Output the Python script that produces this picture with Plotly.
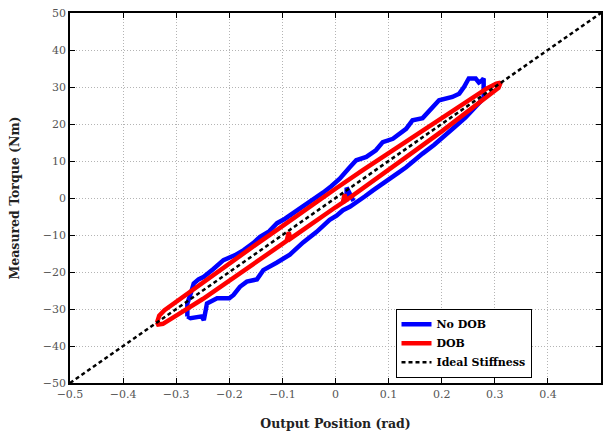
import plotly.graph_objects as go

# ---- data ----
nodob_x = [-0.279, -0.279, -0.272, -0.267, -0.258, -0.248, -0.230, -0.211, -0.190, -0.173, -0.155,
           -0.142, -0.125, -0.110, -0.095, -0.079, -0.065, -0.054, -0.040, -0.023, -0.008,
           0.008, 0.026, 0.039, 0.058, 0.076, 0.089, 0.108, 0.133, 0.145, 0.164, 0.183,
           0.195, 0.220, 0.233, 0.242, 0.251, 0.264, 0.270, 0.276, 0.279, 0.279,
           0.264, 0.245, 0.226, 0.208, 0.186, 0.164, 0.148, 0.133, 0.118, 0.101, 0.085,
           0.070, 0.055, 0.039, 0.027, 0.014, 0.002, -0.011, -0.036, -0.061, -0.086,
           -0.111, -0.136, -0.148, -0.167, -0.180, -0.192, -0.200, -0.223, -0.242, -0.248,
           -0.252, -0.262, -0.273, -0.279,
           None, 0.021, 0.021, 0.034]
nodob_y = [-32.0, -28.5, -25.5, -23.1, -22.0, -21.3, -19.2, -16.8, -15.5, -14.1, -12.2,
           -10.5, -9.0, -6.8, -5.6, -4.1, -2.8, -1.6, -0.2, 1.5, 3.2,
           5.2, 8.2, 10.2, 11.1, 12.9, 15.1, 16.0, 18.7, 21.0, 21.6, 24.6,
           26.4, 27.3, 28.2, 30.0, 32.3, 32.3, 31.2, 31.8, 32.3, 27.0,
           24.6, 21.8, 19.4, 17.0, 14.4, 12.0, 9.9, 8.3, 6.8, 5.2, 3.4,
           2.0, 0.4, -1.2, -2.4, -3.3, -4.8, -5.9, -9.2, -12.0, -15.3,
           -17.5, -19.5, -22.0, -22.6, -24.0, -26.2, -27.1, -27.1, -28.5, -33.0,
           -32.0, -32.2, -32.5, -32.0,
           None, -0.9, 2.8, -0.8]

dob_x = [-0.336, -0.332, -0.322, -0.300, -0.250, -0.200, -0.150, -0.100, -0.050, 0.000,
         0.050, 0.100, 0.150, 0.200, 0.250, 0.285, 0.303, 0.311,
         0.307, 0.290, 0.250, 0.200, 0.150, 0.100, 0.050, 0.020, 0.017, 0.014, 0.000,
         -0.050, -0.085, -0.088, -0.092, -0.100, -0.150, -0.200, -0.250, -0.300,
         -0.325, -0.334, -0.336]
dob_y = [-33.6, -31.8, -30.3, -28.0, -23.0, -17.7, -12.6, -7.6, -2.4, 2.5,
         7.4, 12.2, 16.9, 21.6, 26.3, 29.6, 30.9, 31.2,
         29.8, 27.9, 23.5, 18.0, 12.8, 7.7, 2.6, -0.6, 1.0, -1.2, -2.5,
         -7.5, -11.0, -9.3, -11.6, -12.4, -17.4, -22.4, -27.3, -31.8,
         -34.0, -34.2, -33.6]

ideal_x = [-0.5, 0.5]
ideal_y = [-50, 50]

x_ticks = [-0.5, -0.4, -0.3, -0.2, -0.1, 0, 0.1, 0.2, 0.3, 0.4, 0.5]
x_tick_labels = ["\u22120.5", "\u22120.4", "\u22120.3", "\u22120.2", "\u22120.1", "0",
                 "0.1", "0.2", "0.3", "0.4", "0.5"]
y_ticks = [-50, -40, -30, -20, -10, 0, 10, 20, 30, 40, 50]
y_tick_labels = ["\u221250", "\u221240", "\u221230", "\u221220", "\u221210", "0",
                 "10", "20", "30", "40", "50"]

serif = "DejaVu Serif"

fig = go.Figure()
fig.add_trace(go.Scatter(x=nodob_x, y=nodob_y, mode="lines", name="<b>No DOB</b>",
                         line=dict(color="#0000ff", width=4.5), connectgaps=False))
fig.add_trace(go.Scatter(x=dob_x, y=dob_y, mode="lines", name="<b>DOB</b>",
                         line=dict(color="#ff0000", width=4.5)))
fig.add_trace(go.Scatter(x=ideal_x, y=ideal_y, mode="lines", name="<b>Ideal Stiffness</b>",
                         line=dict(color="#000000", width=2.5, dash="4px,3px")))

axis_common = dict(
    showgrid=True, gridcolor="#b4b4b4", griddash="1px,2px", gridwidth=1,
    zeroline=False, showline=True, linecolor="#000000", linewidth=1.5,
    mirror="ticks", ticks="inside", ticklen=5, tickwidth=1, tickcolor="#000000",
    tickfont=dict(family=serif, size=11, color="#555555"),
)

fig.update_xaxes(range=[-0.5, 0.5], tickmode="array", tickvals=x_ticks,
                 ticktext=x_tick_labels,
                 title=dict(text="<b>Output Position (rad)</b>",
                            font=dict(family=serif, size=12.5, color="#222222"),
                            standoff=19),
                 **axis_common)
fig.update_yaxes(range=[-50, 50], tickmode="array", tickvals=y_ticks,
                 ticktext=y_tick_labels,
                 title=dict(text="<b>Measured Torque (Nm)</b>",
                            font=dict(family=serif, size=12.5, color="#222222"),
                            standoff=20),
                 **axis_common)

fig.update_layout(
    width=609, height=435,
    margin=dict(l=70, r=6, t=13, b=52),
    paper_bgcolor="white", plot_bgcolor="white",
    showlegend=True,
    legend=dict(x=0.613, y=0.201, xanchor="left", yanchor="top",
                bgcolor="white", bordercolor="#000000", borderwidth=1,
                font=dict(family=serif, size=11, color="#000000"),
                itemwidth=30, tracegroupgap=0),
    font=dict(family=serif),
)

fig.write_html("out.html")
